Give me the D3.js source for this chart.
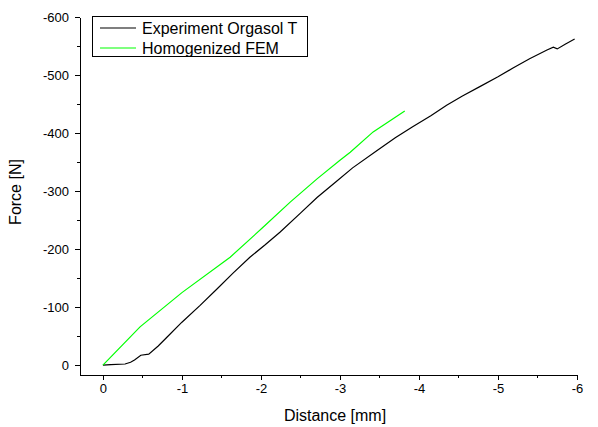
<!DOCTYPE html>
<meta charset="utf-8">
<style>
body { margin: 0; background: #fff; }
text { font-family: Arial, "Liberation Sans", sans-serif; fill: #000; }
.axis path, .axis line { stroke: #000; shape-rendering: crispEdges; }
.axis text { font-size: 13px; font-family: Arial, "Liberation Sans", sans-serif; }
.line { fill: none; stroke-width: 1.2px; }
</style>
<body>
<script src="https://d3js.org/d3.v7.min.js"></script>
<script>

// series: [distance mm, force N]
var experiment = [
  [0, 0], [-0.1, -1], [-0.28, -2], [-0.35, -5], [-0.40, -9], [-0.48, -17],
  [-0.58, -19], [-0.7, -33], [-0.81, -48], [-1.0, -74], [-1.23, -103],
  [-1.45, -132], [-1.65, -159], [-1.86, -186], [-2.05, -207], [-2.24, -229],
  [-2.5, -262], [-2.71, -289], [-2.95, -316], [-3.16, -340], [-3.47, -370],
  [-3.7, -392], [-3.92, -411], [-4.15, -430], [-4.35, -448], [-4.55, -464],
  [-4.77, -480], [-5.0, -497], [-5.19, -512], [-5.4, -528], [-5.62, -543],
  [-5.70, -548], [-5.75, -545], [-5.85, -553], [-5.97, -562]
];
var fem = [
  [0, 0], [-0.47, -66], [-1.0, -125], [-1.61, -186], [-2.03, -238],
  [-2.37, -281], [-2.71, -321], [-3.0, -353], [-3.13, -367], [-3.42, -402],
  [-3.82, -438]
];
var seriesNames = ["Experiment Orgasol T", "Homogenized FEM"];
var seriesColors = ["#000000", "#00ff00"];
var xTicks = [0, -1, -2, -3, -4, -5, -6];
var yTicks = [0, -100, -200, -300, -400, -500, -600];

var W = 598, H = 427;
var svg = d3.select("body").append("svg")
    .attr("width", W)
    .attr("height", H);

// plot frame (left axis at 80, bottom axis at 375)
var x = d3.scaleLinear().domain([0.29, -6]).range([80, 577]);
var y = d3.scaleLinear().domain([17, -600]).range([375, 17]);

// plain hyphen minus like the original
var fmt = function(d) { return d === 0 ? "0" : "-" + Math.abs(d); };

// minor ticks
var xMinor = d3.range(0, -6.01, -0.5);
var yMinor = d3.range(0, -601, -50);

svg.append("g")
    .attr("class", "axis")
    .attr("transform", "translate(0," + y.range()[0] + ")")
    .call(d3.axisBottom(x).tickValues(xMinor).tickSize(3).tickFormat(""))
    .call(function(g) { g.select(".domain").remove(); });

svg.append("g")
    .attr("class", "axis")
    .attr("transform", "translate(" + x.range()[0] + ",0)")
    .call(d3.axisLeft(y).tickValues(yMinor).tickSize(3).tickFormat(""))
    .call(function(g) { g.select(".domain").remove(); });

svg.append("g")
    .attr("class", "axis")
    .attr("transform", "translate(0," + y.range()[0] + ")")
    .call(d3.axisBottom(x).tickValues(xTicks).tickSize(5).tickSizeOuter(0)
      .tickPadding(4).tickFormat(fmt));

svg.append("g")
    .attr("class", "axis")
    .attr("transform", "translate(" + x.range()[0] + ",0)")
    .call(d3.axisLeft(y).tickValues(yTicks).tickSize(5).tickSizeOuter(0)
      .tickPadding(6).tickFormat(fmt));

// axis titles
svg.append("text")
    .attr("x", 335).attr("y", 421)
    .attr("text-anchor", "middle")
    .style("font-size", "16px")
    .text("Distance [mm]");

svg.append("text")
    .attr("transform", "translate(21,192) rotate(-90)")
    .attr("text-anchor", "middle")
    .style("font-size", "16px")
    .text("Force [N]");

// lines
var line = d3.line()
    .x(function(d) { return x(d[0]); })
    .y(function(d) { return y(d[1]); });

[experiment, fem].forEach(function(s, i) {
  svg.append("path")
      .datum(s)
      .attr("class", "line")
      .attr("stroke", seriesColors[i])
      .attr("d", line);
});

// legend
var lg = svg.append("g");
lg.append("rect")
    .attr("x", 92.5).attr("y", 16.5)
    .attr("width", 215).attr("height", 40)
    .attr("fill", "#fff").attr("stroke", "#000");

seriesNames.forEach(function(n, i) {
  var ly = 28 + i * 20;
  lg.append("line")
      .attr("x1", 100).attr("x2", 136)
      .attr("y1", ly).attr("y2", ly)
      .attr("stroke", seriesColors[i]).attr("stroke-width", 1.2);
  lg.append("text")
      .attr("x", 142).attr("y", ly + 6)
      .style("font-size", "16px")
      .text(n);
});

</script>
</body>
